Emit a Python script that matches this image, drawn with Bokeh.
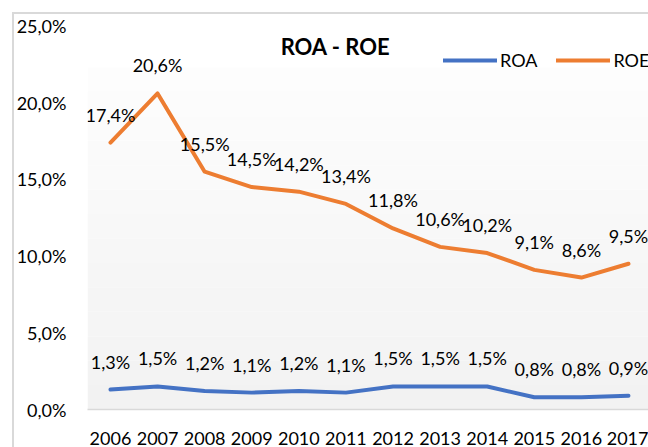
from bokeh.plotting import figure
from bokeh.models import Range1d, FixedTicker, Legend, LegendItem, Label, BoxAnnotation, ColumnDataSource
from bokeh.core.properties import value
from bokeh.embed import file_html
from bokeh.resources import INLINE

years = ["2006", "2007", "2008", "2009", "2010", "2011", "2012", "2013", "2014", "2015", "2016", "2017"]
roa = [1.3, 1.5, 1.2, 1.1, 1.2, 1.1, 1.5, 1.5, 1.5, 0.8, 0.8, 0.9]
roe = [17.4, 20.6, 15.5, 14.5, 14.2, 13.4, 11.8, 10.6, 10.2, 9.1, 8.6, 9.5]
y_ticks = [0, 5, 10, 15, 20, 25]
y_tick_labels = ["0,0%", "5,0%", "10,0%", "15,0%", "20,0%", "25,0%"]

FONT = "Lato"
BLUE = "#4472C4"
ORANGE = "#ED7D31"

def fmt(v):
    return f"{v:.1f}".replace(".", ",") + "%"

xs = list(range(len(years)))

p = figure(width=648, height=447, output_backend="svg", toolbar_location=None,
           x_range=Range1d(-0.488, 11.425), y_range=Range1d(0, 26.66),
           min_border_left=87, min_border_right=0, min_border_top=0, min_border_bottom=37)
p.outline_line_color = None
p.background_fill_color = None
p.border_fill_color = None
p.xgrid.visible = False
p.ygrid.visible = False
# chart border (left and top edges), painted behind the transparent canvas
p.styles = {
    "background": ("linear-gradient(#d9d9d9, #d9d9d9) 12px 12px / 2px 100% no-repeat, "
                   "linear-gradient(#d9d9d9, #d9d9d9) 12px 12px / 100% 2px no-repeat, white"),
}

# subtle gradient plot-area background
n_bands = 14
top_val = 22.3
for i in range(n_bands):
    t = i / (n_bands - 1)
    c = int(round(253 - t * (253 - 242)))
    col = "#%02x%02x%02x" % (c, c, c)
    b_top = top_val * (1 - i / n_bands)
    b_bot = top_val * (1 - (i + 1) / n_bands)
    p.add_layout(BoxAnnotation(top=b_top, bottom=b_bot, fill_color=col, fill_alpha=1.0,
                               line_color=None, level="underlay"))

# axes
p.xaxis.ticker = FixedTicker(ticks=xs)
p.xaxis.major_label_overrides = {i: y for i, y in enumerate(years)}
p.xaxis.major_tick_line_color = None
p.xaxis.minor_tick_line_color = None
p.xaxis.axis_line_color = "#d9d9d9"
p.xaxis.axis_line_width = 1.5
p.xaxis.major_label_text_font = FONT
p.xaxis.major_label_text_font_size = "18px"
p.xaxis.major_label_text_color = "black"
p.xaxis.major_label_standoff = 16

p.yaxis.ticker = FixedTicker(ticks=y_ticks)
p.yaxis.major_label_overrides = {t: l for t, l in zip(y_ticks, y_tick_labels)}
p.yaxis.major_tick_line_color = None
p.yaxis.minor_tick_line_color = None
p.yaxis.axis_line_color = None
p.yaxis.major_label_text_font = FONT
p.yaxis.major_label_text_font_size = "18px"
p.yaxis.major_label_text_color = "black"
p.yaxis.major_label_standoff = 15

src = ColumnDataSource(dict(x=xs, roa=roa, roe=roe,
                            roa_lbl=[fmt(v) for v in roa], roe_lbl=[fmt(v) for v in roe]))

r_roa = p.line("x", "roa", source=src, line_color=BLUE, line_width=4, line_cap="round", line_join="round")
r_roe = p.line("x", "roe", source=src, line_color=ORANGE, line_width=4, line_cap="round", line_join="round")

for col, lbl in (("roa", "roa_lbl"), ("roe", "roe_lbl")):
    p.text("x", col, text=lbl, source=src, text_align="center", text_baseline="middle",
           y_offset=-28, text_font=value(FONT), text_font_size="18px", text_color="black")

title = Label(x=248, y=363, x_units="screen", y_units="screen", text="ROA - ROE",
              text_align="center", text_baseline="middle", text_font=FONT,
              text_font_size="22px", text_font_style="bold", text_color="black")
p.add_layout(title)

legend = Legend(items=[LegendItem(label="ROA", renderers=[r_roa]),
                       LegendItem(label="ROE", renderers=[r_roe])],
                location=(356, 338), orientation="horizontal",
                padding=0, margin=0, spacing=19, glyph_width=54, glyph_height=20,
                label_standoff=3, label_height=20,
                label_text_font=FONT, label_text_font_size="18px", label_text_color="black",
                border_line_color=None, background_fill_alpha=0)
p.add_layout(legend)

open("out.html", "w").write(file_html(p, INLINE))
